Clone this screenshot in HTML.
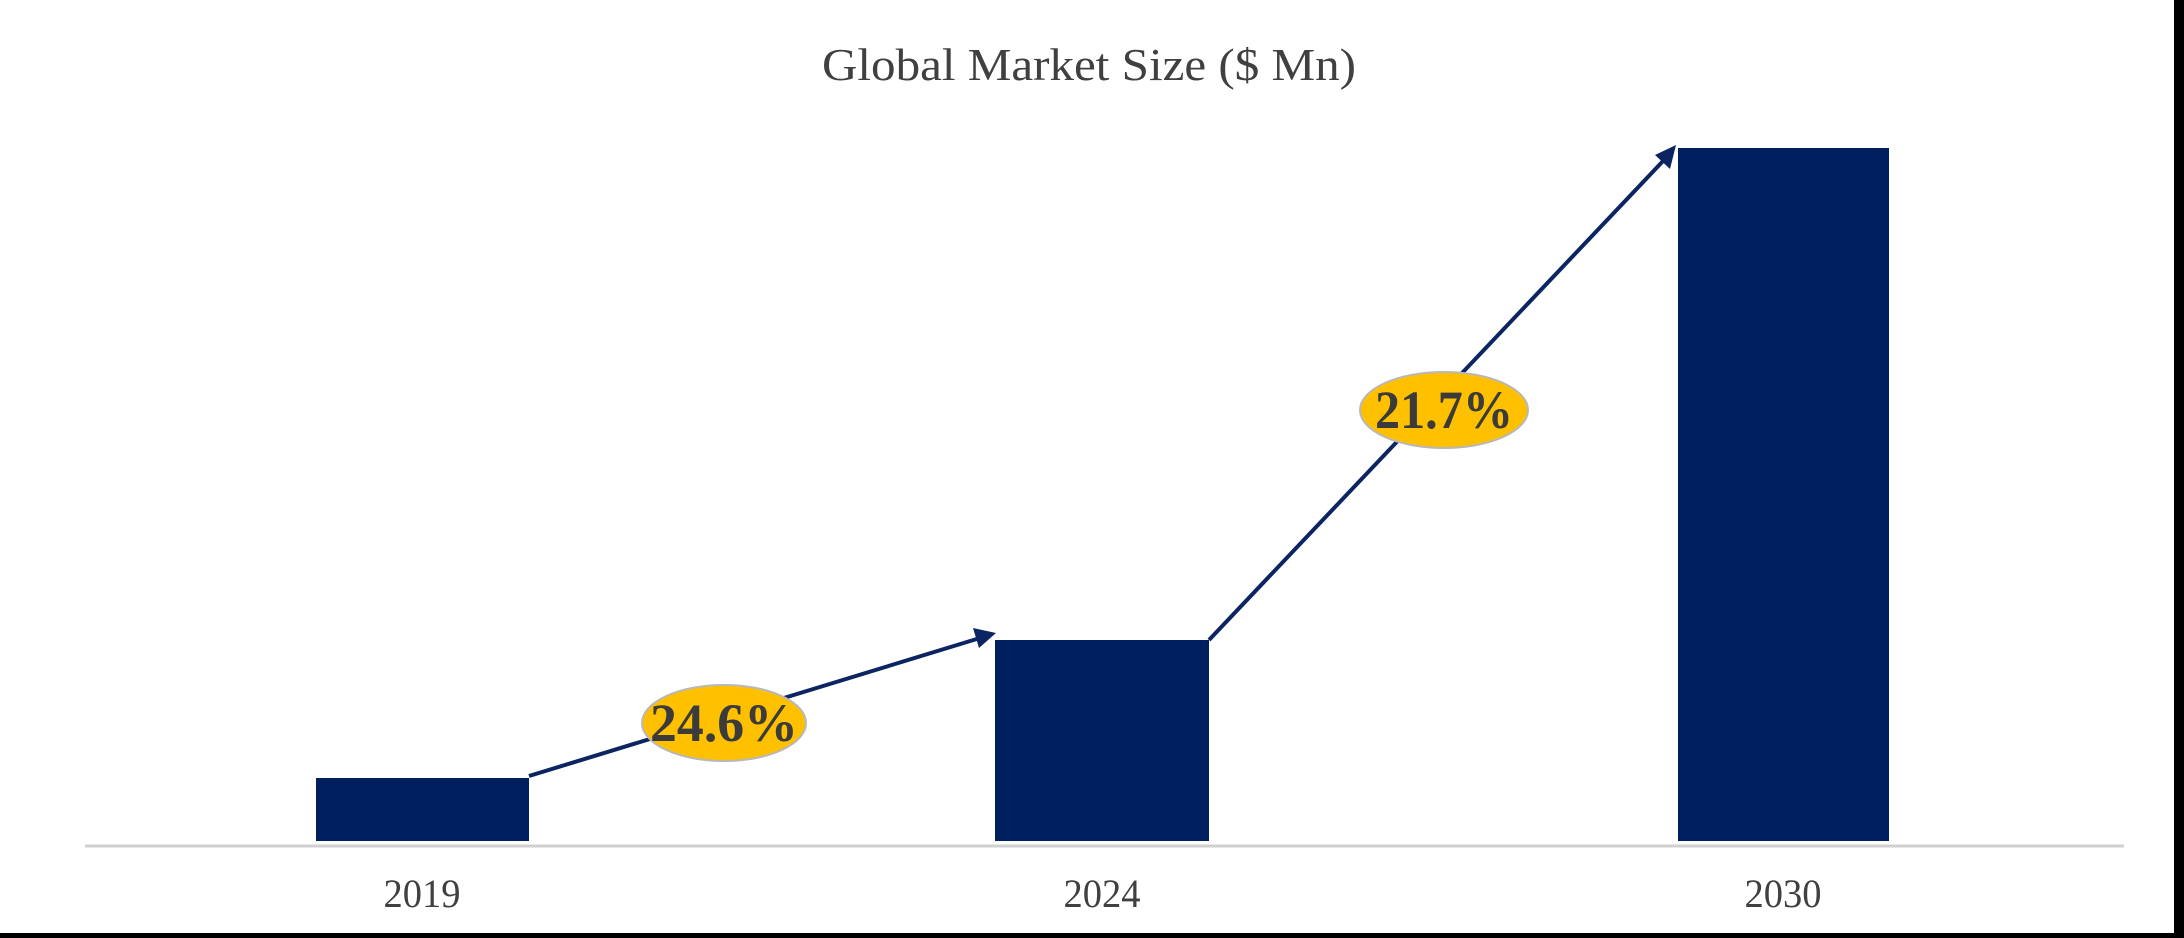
<!DOCTYPE html>
<html><head><style>html,body{margin:0;padding:0;background:#fff}svg{display:block}</style></head>
<body>
<svg width="2184" height="938" xmlns="http://www.w3.org/2000/svg">
<rect width="2184" height="938" fill="#fff"/>
<rect x="2174" y="0" width="10" height="938" fill="#000"/>
<rect x="0" y="933" width="2184" height="5" fill="#000"/>
<text x="1089" y="80" font-family="Liberation Serif, serif" font-size="46" fill="#404040" text-anchor="middle" textLength="534" lengthAdjust="spacingAndGlyphs">Global Market Size ($ Mn)</text>
<line x1="85" y1="846" x2="2124" y2="846" stroke="#d0d0d0" stroke-width="3"/>
<rect x="316" y="778" width="213" height="63" fill="#001f5f"/>
<rect x="995" y="640" width="214" height="201" fill="#001f5f"/>
<rect x="1678" y="148" width="211" height="693" fill="#001f5f"/>
<g stroke="#0c2461" stroke-width="4" fill="#0c2461">
<line x1="529" y1="776" x2="980" y2="638"/>
<polygon points="996,633 973,628 979,648" stroke="none"/>
<line x1="1209" y1="640" x2="1664" y2="160"/>
<polygon points="1676,145 1655,155 1670,169" stroke="none"/>
</g>
<ellipse cx="724" cy="723" rx="82" ry="38" fill="#FFC000" stroke="#b8b8b8" stroke-width="2"/>
<ellipse cx="1444" cy="410" rx="84" ry="38" fill="#FFC000" stroke="#b8b8b8" stroke-width="2"/>
<text x="724" y="741" font-family="Liberation Serif, serif" font-size="54" font-weight="bold" fill="#3b3b3b" text-anchor="middle" textLength="148" lengthAdjust="spacingAndGlyphs">24.6%</text>
<text x="1444" y="428" font-family="Liberation Serif, serif" font-size="54" font-weight="bold" fill="#3b3b3b" text-anchor="middle" textLength="138" lengthAdjust="spacingAndGlyphs">21.7%</text>
<g font-family="Liberation Serif, serif" font-size="40" fill="#404040" text-anchor="middle">
<text x="422" y="907" textLength="77" lengthAdjust="spacingAndGlyphs">2019</text>
<text x="1102" y="907" textLength="77" lengthAdjust="spacingAndGlyphs">2024</text>
<text x="1783" y="907" textLength="77" lengthAdjust="spacingAndGlyphs">2030</text>
</g>
</svg>
</body></html>
